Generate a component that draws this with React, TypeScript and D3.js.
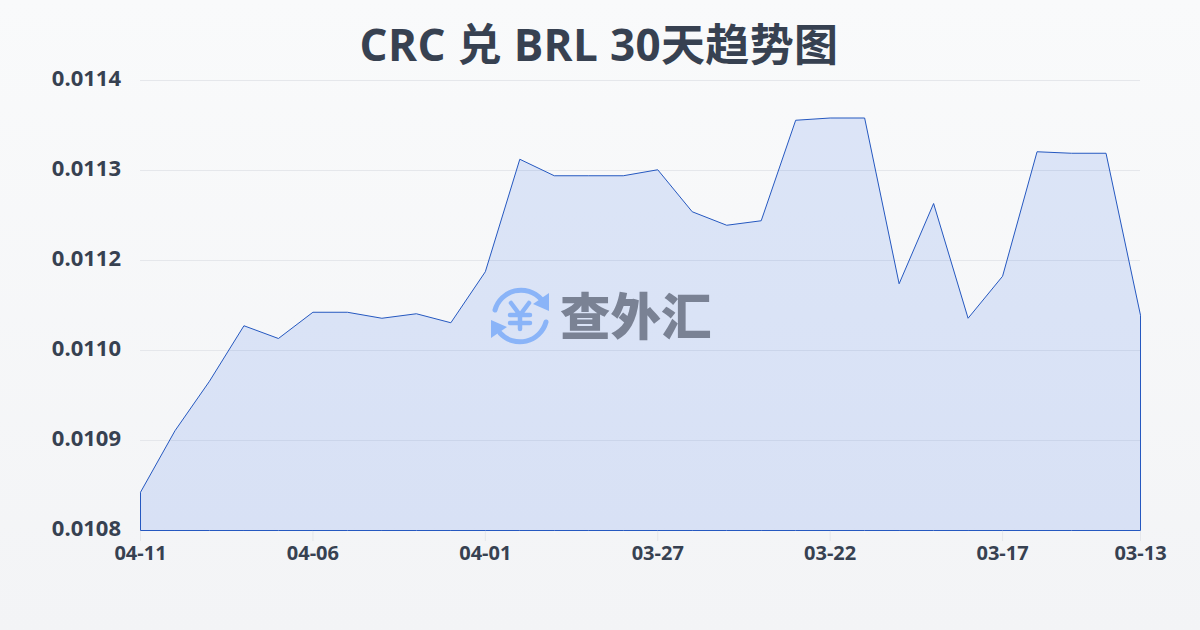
import React from "react";
import * as d3 from "d3";

const title = "CRC 兑 BRL 30天趋势图";
const dates = ["04-11","04-10","04-09","04-08","04-07","04-06","04-05","04-04","04-03","04-02","04-01","03-31","03-30","03-29","03-28","03-27","03-26","03-25","03-24","03-23","03-22","03-21","03-20","03-19","03-18","03-17","03-16","03-15","03-14","03-13"];
const rates = [0.010851,0.010933,0.010999,0.011073,0.011056,0.011091,0.011091,0.011083,0.011089,0.011077,0.011145,0.011295,0.011273,0.011273,0.011273,0.011281,0.011225,0.011207,0.011213,0.011347,0.01135,0.01135,0.011129,0.011236,0.011083,0.011139,0.011305,0.011303,0.011303,0.011087];
const yTicks = [0.0108,0.01092,0.01104,0.01116,0.01128,0.0114];
const xTickIndex = [0,5,10,15,20,25,29];

const W = 1200, H = 630;
const font = "'Open Sans','Noto Sans CJK SC',sans-serif";

export default function App() {
  const x = d3.scaleLinear().domain([0, dates.length - 1]).range([140.5, 1140.5]);
  const y = d3.scaleLinear().domain([0.0108, 0.0114]).range([530.5, 80.5]);
  const area = d3.area<number>().x((_, i) => x(i)).y0(530.5).y1(d => y(d));
  const outline = `${area(rates)}`;
  return (
    <svg width={W} height={H} style={{ position: "fixed", left: 0, top: 0, display: "block" }} fontFamily={font}>
      <defs>
        <linearGradient id="bg" x1="0" y1="0" x2="0" y2="1">
          <stop offset="0" stopColor="#f9fafb" />
          <stop offset="1" stopColor="#f3f4f6" />
        </linearGradient>
      </defs>
      <rect width={W} height={H} fill="url(#bg)" />
      <text x={599} y={61} textAnchor="middle" fontSize={44} fontWeight={700} letterSpacing={0.35} fill="#374151">{title}</text>
      {yTicks.map(t => (
        <g key={t}>
          <line x1={140} x2={1140} y1={y(t)} y2={y(t)} stroke="#e5e7eb" strokeWidth={1} />
          <text x={121} y={y(t) + 5} textAnchor="end" fontSize={22} fontWeight={700} fill="#374151">{t.toFixed(4)}</text>
        </g>
      ))}
      <path d={outline} fill="#2563eb" fillOpacity={0.135} stroke="#2558c0" strokeWidth={1} />
      {xTickIndex.map(i => (
        <g key={i}>
          <line x1={x(i)} x2={x(i)} y1={531} y2={541} stroke="#e5e7eb" strokeWidth={1} />
          <text x={x(i)} y={560} textAnchor="middle" fontSize={20} fontWeight={700} fill="#374151">{dates[i]}</text>
        </g>
      ))}
      <g fill="none" stroke="#8ab4f8" strokeWidth={5} strokeLinecap="round">
        <path d="M 495 310 A 27 27 0 0 1 541 299" />
        <path d="M 546 322 A 27 27 0 0 1 500 333" />
        <path d="M 511 303 L 520 315 L 529 303 M 520 315 L 520 329 M 510 315 L 530 315 M 510 323 L 530 323" strokeWidth={4.5} />
      </g>
      <path d="M 549 293 L 549 311 L 533 304 Z M 491 338 L 491 320 L 507 327 Z" fill="#8ab4f8" />
      <text x={560} y={335} fontSize={50.5} fontWeight={900} fill="#7a8294">查外汇</text>
    </svg>
  );
}
